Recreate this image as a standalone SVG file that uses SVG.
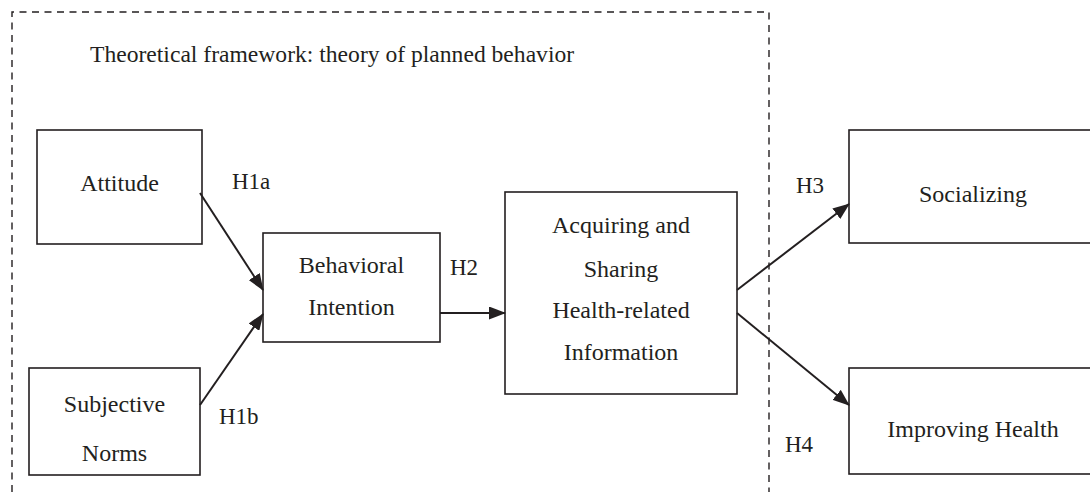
<svg xmlns="http://www.w3.org/2000/svg" width="1090" height="492" viewBox="0 0 1090 492">
  <style>
    .box { fill: #ffffff; stroke: #231f20; stroke-width: 1.6; }
    .lbl { font-family: "Liberation Serif", "Times New Roman", serif; font-size: 24px; fill: #231f20; text-anchor: middle; }
    .hyp { font-family: "Liberation Serif", "Times New Roman", serif; font-size: 23px; fill: #231f20; }
    .conn { stroke: #231f20; stroke-width: 2; fill: none; marker-end: url(#arrow); }
    .frame { fill: none; stroke: #231f20; stroke-width: 1.4; stroke-dasharray: 7 5.5; }
  </style>
  <defs>
    <marker id="arrow" markerUnits="userSpaceOnUse" markerWidth="17" markerHeight="13" refX="16" refY="6.5" orient="auto">
      <path d="M0,0 L17,6.5 L0,13 Z" fill="#231f20"/>
    </marker>
  </defs>
  <rect width="1090" height="492" fill="#ffffff"/>

  <g id="frame">
    <path class="frame" d="M12,492 V12 H769 V492"/>
    <text x="90" y="62" font-family="Liberation Serif, Times New Roman, serif" font-size="23.6" fill="#231f20">Theoretical framework: theory of planned behavior</text>
  </g>

  <g id="attitude">
    <rect class="box" x="37" y="130" width="165" height="114"/>
    <text class="lbl" x="119.5" y="191">Attitude</text>
  </g>

  <g id="subjective-norms">
    <rect class="box" x="29" y="368" width="171" height="107"/>
    <text class="lbl" x="114.5" y="412">Subjective</text>
    <text class="lbl" x="114.5" y="461">Norms</text>
  </g>

  <g id="behavioral-intention">
    <rect class="box" x="263" y="233" width="177" height="109"/>
    <text class="lbl" x="351.5" y="273">Behavioral</text>
    <text class="lbl" x="351.5" y="315">Intention</text>
  </g>

  <g id="acquiring-sharing">
    <rect class="box" x="505" y="192" width="232" height="202"/>
    <text class="lbl" x="621" y="233">Acquiring and</text>
    <text class="lbl" x="621" y="277">Sharing</text>
    <text class="lbl" x="621" y="318">Health-related</text>
    <text class="lbl" x="621" y="360">Information</text>
  </g>

  <g id="socializing">
    <rect class="box" x="849" y="130" width="260" height="113"/>
    <text class="lbl" x="973" y="202">Socializing</text>
  </g>

  <g id="improving-health">
    <rect class="box" x="849" y="368" width="260" height="106"/>
    <text class="lbl" x="973" y="437">Improving Health</text>
  </g>

  <g id="connectors">
    <line class="conn" x1="200" y1="193" x2="263" y2="290"/>
    <line class="conn" x1="200" y1="405" x2="263" y2="314"/>
    <line class="conn" x1="440" y1="313" x2="505" y2="313"/>
    <line class="conn" x1="737" y1="290" x2="849" y2="204"/>
    <line class="conn" x1="737" y1="313" x2="849" y2="405"/>
    <text class="hyp" x="232" y="189">H1a</text>
    <text class="hyp" x="219" y="424">H1b</text>
    <text class="hyp" x="450" y="275">H2</text>
    <text class="hyp" x="796" y="193">H3</text>
    <text class="hyp" x="785" y="452">H4</text>
  </g>
</svg>
